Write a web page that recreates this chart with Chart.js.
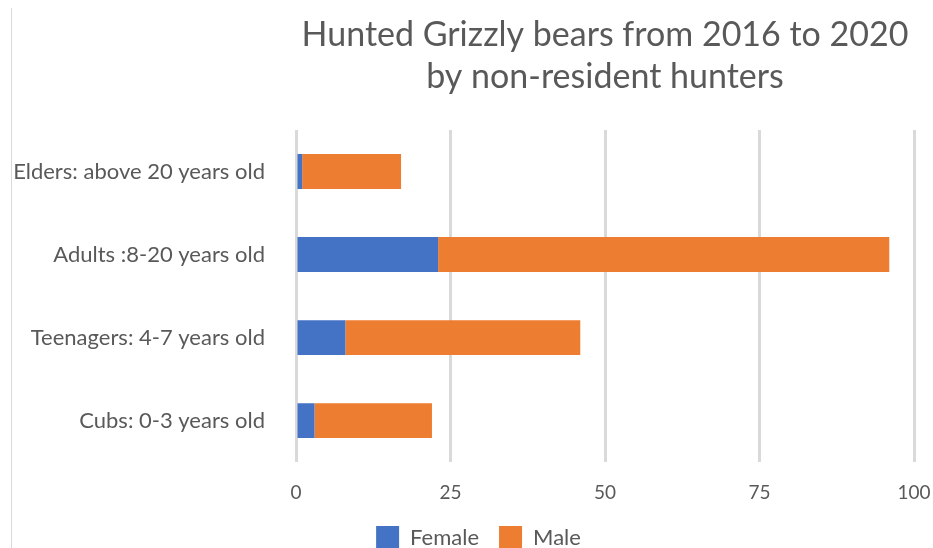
<!DOCTYPE html>
<html>
<head>
<meta charset="utf-8">
<script src="https://cdn.jsdelivr.net/npm/chart.js@4/dist/chart.umd.min.js"></script>
<style>
  html, body { margin: 0; padding: 0; background: #fff; }
  #wrap { width: 933px; height: 548px; position: relative; }
  #edge { position: absolute; left: 11px; top: 8px; bottom: 0; width: 1px; background: #d9d9d9; }
</style>
</head>
<body>
<div id="wrap"><div id="edge"></div><canvas id="bearChart"></canvas></div>
<script>
const categories = [
  'Elders: above 20 years old',
  'Adults :8-20 years old',
  'Teenagers: 4-7 years old',
  'Cubs: 0-3 years old'
];
const femaleValues = [1, 23, 8, 3];
const maleValues = [16, 73, 38, 19];
const xTicks = [0, 25, 50, 75, 100];

const textColor = '#595959';
const fontFamily = 'Lato, "Open Sans", sans-serif';

// excel puts the legend a bit differently than chart.js would
const legendNudge = {
  id: 'legendNudge',
  afterLayout(chart) {
    const lg = chart.legend;
    lg.top -= 17; lg.bottom -= 17;
    lg.left += 12; lg.right += 12;
  }
};

new Chart(document.getElementById('bearChart').getContext('2d'), {
  type: 'bar',
  data: {
    labels: categories,
    datasets: [
      { label: 'Female', data: femaleValues, backgroundColor: '#4472c4' },
      { label: 'Male', data: maleValues, backgroundColor: '#ed7d31' }
    ]
  },
  plugins: [legendNudge],
  options: {
    indexAxis: 'y',
    responsive: true,
    maintainAspectRatio: false,
    animation: false,
    layout: { padding: { top: 14, right: 0, bottom: -28, left: 0 } },
    datasets: { bar: { barPercentage: 0.42, categoryPercentage: 1 } },
    scales: {
      x: {
        stacked: true,
        min: 0,
        max: 100,
        afterBuildTicks: (scale) => { scale.ticks = xTicks.map(v => ({ value: v })); },
        afterFit: (scale) => { scale.paddingRight = 19; },
        grid: { color: '#d9d9d9', lineWidth: 3, drawTicks: false },
        border: { display: false },
        ticks: { color: textColor, font: { family: fontFamily, size: 19 }, padding: 19 }
      },
      y: {
        stacked: true,
        afterFit: (scale) => { scale.width = 296; },
        grid: { display: false, drawTicks: false },
        border: { display: false },
        ticks: { color: textColor, font: { family: fontFamily, size: 22 }, padding: 31 }
      }
    },
    plugins: {
      title: {
        display: true,
        fullSize: false,
        text: ['Hunted Grizzly bears from 2016 to 2020', 'by non-resident hunters'],
        color: textColor,
        font: { family: fontFamily, size: 34, weight: 'normal', lineHeight: 1.235 },
        padding: { top: 0, bottom: 32 }
      },
      legend: {
        position: 'bottom',
        labels: {
          color: textColor,
          font: { family: fontFamily, size: 22 },
          boxWidth: 23,
          boxHeight: 23,
          padding: 20
        }
      },
      tooltip: { enabled: false }
    }
  }
});
</script>
</body>
</html>
